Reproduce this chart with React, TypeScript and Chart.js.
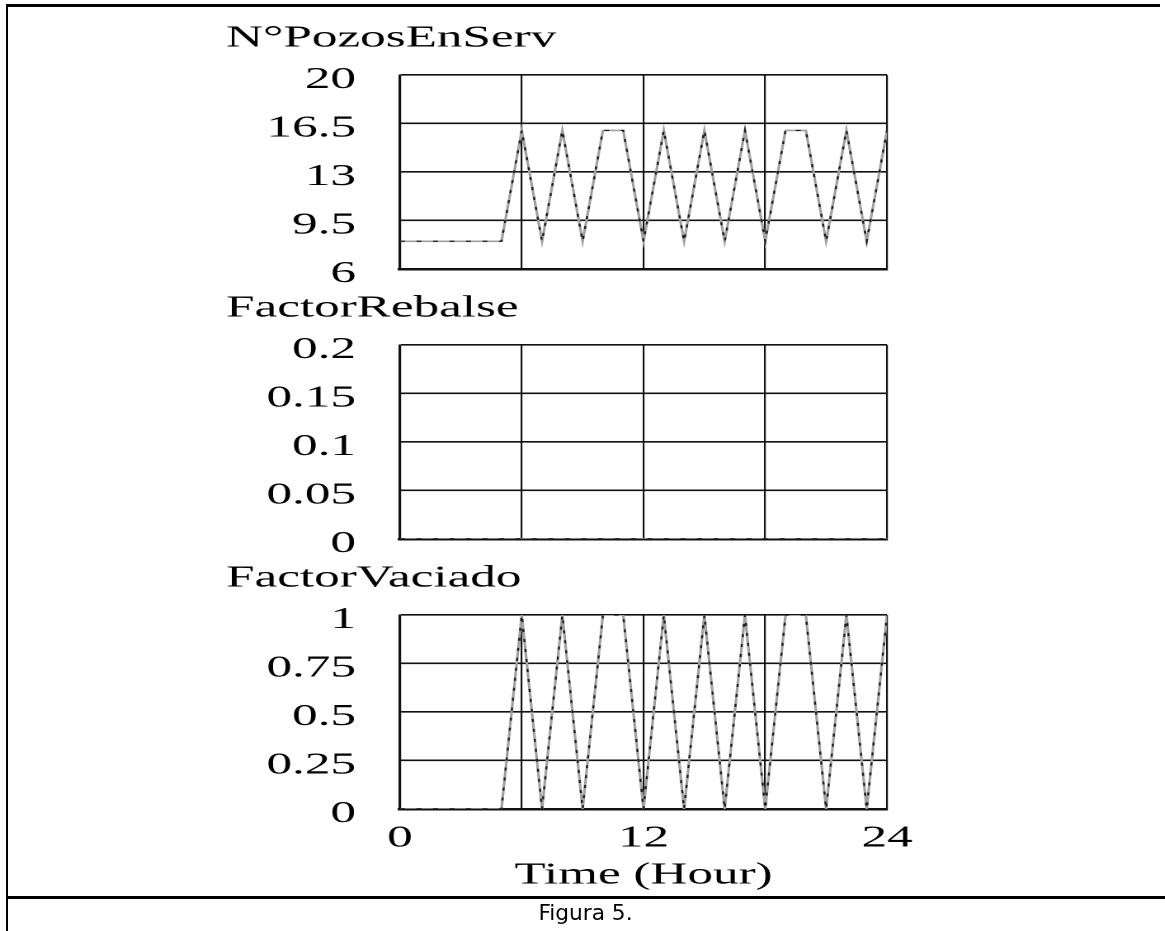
import React, { useEffect, useRef } from 'react';
import { Chart, registerables } from 'chart.js';

Chart.register(...registerables);

// ---------- data ----------
const HOURS = [0, 1, 2, 3, 4, 5, 6, 7, 8, 9, 10, 11, 12, 13, 14, 15, 16, 17, 18, 19, 20, 21, 22, 23, 24];
const POZOS_EN_SERV = [8, 8, 8, 8, 8, 8, 16, 8, 16, 8, 16, 16, 8, 16, 8, 16, 8, 16, 8, 16, 16, 8, 16, 8, 16];
const FACTOR_REBALSE = [0, 0, 0, 0, 0, 0, 0, 0, 0, 0, 0, 0, 0, 0, 0, 0, 0, 0, 0, 0, 0, 0, 0, 0, 0];
const FACTOR_VACIADO = [0, 0, 0, 0, 0, 0, 1, 0, 1, 0, 1, 1, 0, 1, 0, 1, 0, 1, 0, 1, 1, 0, 1, 0, 1];

const X_TICKS = [0, 6, 12, 18, 24];
const X_TICK_LABELS = ['0', '', '12', '', '24'];
const POZOS_TICKS = [6, 9.5, 13, 16.5, 20];
const POZOS_TICK_LABELS = ['6', '9.5', '13', '16.5', '20'];
const REBALSE_TICKS = [0, 0.05, 0.1, 0.15, 0.2];
const REBALSE_TICK_LABELS = ['0', '0.05', '0.1', '0.15', '0.2'];
const VACIADO_TICKS = [0, 0.25, 0.5, 0.75, 1];
const VACIADO_TICK_LABELS = ['0', '0.25', '0.5', '0.75', '1'];

const TITLE_POZOS = 'N°PozosEnServ';
const TITLE_REBALSE = 'FactorRebalse';
const TITLE_VACIADO = 'FactorVaciado';
const X_TITLE = 'Time (Hour)';
const CAPTION = 'Figura 5.';

// ---------- layout (screen px) ----------
const SX = 1.65; // horizontal stretch of the original figure
const FONT_FAMILY = "'Liberation Serif', 'Times New Roman', serif";
const FS = 31;
const LH = 1.2;
const INT_W = 1165 / SX;
const PLOT_L = 400 / SX;
const PLOT_R = 887 / SX;
const TITLE_L = 226 / SX;
const LABEL_R = 356 / SX;
const TICK_PAD = PLOT_L - LABEL_R;
const Y_AXIS_W = PLOT_L - TITLE_L;
const CW = 600;
const TOP_PAD = 20;
const TITLE_GAP = 75 - TOP_PAD - FS * LH;
const X_AXIS_H = 85;

const font = { family: FONT_FAMILY, size: FS, lineHeight: LH, weight: 'normal' as const };

type PanelProps = {
  title: string;
  values: number[];
  yMin: number;
  yMax: number;
  yTicks: number[];
  yLabels: string[];
  plotTop: number;
  plotBottom: number;
  showX: boolean;
};

function Panel(p: PanelProps) {
  const ref = useRef<HTMLCanvasElement>(null);
  const top = p.plotTop - 75;
  const bottomPad = p.showX ? 2 : 48;
  const xAxisH = p.showX ? X_AXIS_H : 0;
  const height = p.plotBottom + xAxisH + bottomPad - top;

  useEffect(() => {
    const pts = HOURS.map((h, i) => ({ x: h, y: p.values[i] }));
    const chart = new Chart(ref.current as HTMLCanvasElement, {
      type: 'line',
      data: {
        datasets: [
          { data: pts, borderColor: '#1a1a1a', borderWidth: 1.2, borderDash: [3, 7], pointRadius: 0, tension: 0 },
          { data: pts, borderColor: '#a0a0a0', borderWidth: 1.6, pointRadius: 0, tension: 0 },
        ],
      },
      options: {
        animation: false,
        responsive: true,
        maintainAspectRatio: false,
        devicePixelRatio: 2,
        events: [],
        layout: { padding: { top: TOP_PAD, left: TITLE_L, right: CW - PLOT_R, bottom: bottomPad } },
        plugins: {
          legend: { display: false },
          tooltip: { enabled: false },
          title: {
            display: true,
            text: p.title,
            align: 'start',
            color: '#000',
            font,
            padding: { top: 0, bottom: TITLE_GAP },
          },
        },
        scales: {
          x: {
            type: 'linear',
            min: 0,
            max: 24,
            z: 1,
            afterBuildTicks: (s: any) => {
              s.ticks = X_TICKS.map((v) => ({ value: v }));
            },
            afterFit: (s: any) => {
              s.height = xAxisH;
            },
            grid: { color: '#111', lineWidth: 1.1, drawTicks: false },
            border: { color: '#111', width: 2.5 },
            ticks: {
              display: p.showX,
              autoSkip: false,
              maxRotation: 0,
              padding: 11,
              color: '#000',
              font,
              callback: (_v: any, i: number) => X_TICK_LABELS[i],
            },
            title: { display: p.showX, text: X_TITLE, color: '#000', font, padding: { top: 0, bottom: 0 } },
          },
          y: {
            type: 'linear',
            min: p.yMin,
            max: p.yMax,
            afterBuildTicks: (s: any) => {
              s.ticks = p.yTicks.map((v) => ({ value: v }));
            },
            afterFit: (s: any) => {
              s.width = Y_AXIS_W;
            },
            grid: { color: '#111', lineWidth: 1.6, drawTicks: false },
            border: { color: '#111', width: 1.5 },
            ticks: {
              padding: TICK_PAD,
              labelOffset: 5,
              autoSkip: false,
              color: '#000',
              font,
              callback: (_v: any, i: number) => p.yLabels[i],
            },
          },
        },
      } as any,
    });
    return () => chart.destroy();
  }, []);

  return (
    <div style={{ position: 'absolute', left: 0, top, width: CW, height }}>
      <canvas ref={ref} />
    </div>
  );
}

export default function App() {
  return (
    <div style={{ position: 'absolute', left: 0, top: 0, width: 1165, height: 931, overflow: 'hidden', background: '#fff' }}>
      <div style={{ position: 'absolute', left: 6, top: 4, width: 1154, height: 3, background: '#000' }} />
      <div style={{ position: 'absolute', left: 6, top: 4, width: 2, height: 927, background: '#000' }} />
      <div style={{ position: 'absolute', left: 6, top: 896, width: 1159, height: 3, background: '#000' }} />
      <div
        style={{
          position: 'absolute',
          left: 0,
          top: 0,
          width: INT_W,
          height: 931,
          transform: `scaleX(${SX})`,
          transformOrigin: '0 0',
        }}
      >
        <Panel title={TITLE_POZOS} values={POZOS_EN_SERV} yMin={6} yMax={20} yTicks={POZOS_TICKS} yLabels={POZOS_TICK_LABELS} plotTop={75} plotBottom={269} showX={false} />
        <Panel title={TITLE_REBALSE} values={FACTOR_REBALSE} yMin={0} yMax={0.2} yTicks={REBALSE_TICKS} yLabels={REBALSE_TICK_LABELS} plotTop={345} plotBottom={539} showX={false} />
        <Panel title={TITLE_VACIADO} values={FACTOR_VACIADO} yMin={0} yMax={1} yTicks={VACIADO_TICKS} yLabels={VACIADO_TICK_LABELS} plotTop={615} plotBottom={809} showX={true} />
      </div>
      <div
        style={{
          position: 'absolute',
          left: 6,
          top: 901,
          width: 1159,
          height: 24,
          lineHeight: '24px',
          fontSize: 21,
          fontFamily: "'Liberation Sans Narrow', 'DejaVu Sans Condensed', sans-serif",
          textAlign: 'center',
          color: '#000',
          transform: 'scaleX(1.15)',
        }}
      >
        {CAPTION}
      </div>
    </div>
  );
}
